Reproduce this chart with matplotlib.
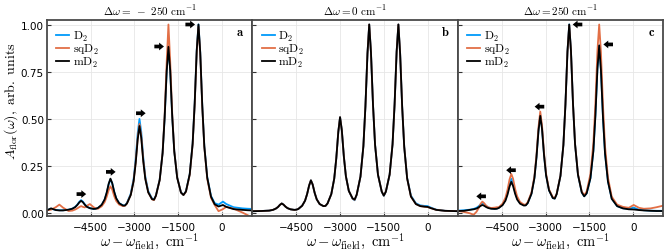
import matplotlib.pyplot as plt

plt.rcParams['mathtext.fontset'] = 'cm'
plt.rcParams['font.family'] = 'DejaVu Sans'

# values
panel_titles = [r'$\Delta\omega =\ -\ 250\ \mathrm{cm}^{-1}$',
                r'$\Delta\omega = 0\ \mathrm{cm}^{-1}$',
                r'$\Delta\omega = 250\ \mathrm{cm}^{-1}$']
panel_letters = ['a', 'b', 'c']
series_names = [r'$\mathrm{D}_2$', r'$\mathrm{sqD}_2$', r'$\mathrm{mD}_2$']
series_colors = ['#009AFA', '#E26F46', 'black']

# panel a: detuning -250 cm^-1
xa = [-6000, -5860, -5700, -5575, -5450,
      -5260, -5130, -5030, -4960, -4890, -4830, -4770, -4700, -4630, -4530, -4400, -4330,
      -4254, -4124, -4024, -3954, -3884, -3824, -3764, -3694, -3624, -3524, -3394, -3326,
      -3258, -3128, -3028, -2958, -2888, -2828, -2768, -2698, -2628, -2528, -2398, -2330,
      -2265, -2135, -2035, -1965, -1895, -1835, -1775, -1705, -1635, -1535, -1405, -1320,
      -1235, -1105, -1005, -935, -865, -805, -745, -675, -605, -505, -375,
      -250, -117, 34, 148, 400, 700, 890, 1040]
a_D2 = [0.012, 0.020, 0.014, 0.012, 0.012,
        0.015, 0.021, 0.030, 0.042, 0.057, 0.066, 0.058, 0.043, 0.031, 0.023, 0.019, 0.020,
        0.024, 0.040, 0.068, 0.103, 0.150, 0.177, 0.156, 0.110, 0.075, 0.050, 0.038, 0.038,
        0.051, 0.100, 0.180, 0.284, 0.423, 0.498, 0.430, 0.293, 0.191, 0.114, 0.074, 0.070,
        0.091, 0.175, 0.318, 0.506, 0.755, 0.886, 0.760, 0.513, 0.327, 0.186, 0.107, 0.094,
        0.112, 0.204, 0.367, 0.580, 0.862, 1.000, 0.853, 0.569, 0.354, 0.188, 0.088,
        0.050, 0.042, 0.058, 0.045, 0.028, 0.022, 0.020, 0.019]
a_sqD2 = [0.012, 0.015, 0.028, 0.042, 0.026,
          0.008, 0.010, 0.016, 0.022, 0.029, 0.034, 0.030, 0.027, 0.036, 0.045, 0.028, 0.022,
          0.020, 0.033, 0.055, 0.083, 0.119, 0.139, 0.123, 0.087, 0.061, 0.042, 0.034, 0.036,
          0.048, 0.094, 0.170, 0.268, 0.398, 0.471, 0.408, 0.279, 0.183, 0.108, 0.070, 0.066,
          0.089, 0.173, 0.318, 0.520, 0.800, 1.000, 0.805, 0.525, 0.327, 0.186, 0.106, 0.093,
          0.110, 0.200, 0.362, 0.573, 0.853, 0.990, 0.845, 0.562, 0.348, 0.180, 0.078,
          0.040, 0.007, 0.018, 0.030, 0.020, 0.000, -0.015, -0.026]
a_mD2 = [0.012, 0.022, 0.013, 0.011, 0.011,
         0.015, 0.020, 0.029, 0.040, 0.054, 0.062, 0.055, 0.041, 0.030, 0.023, 0.019, 0.020,
         0.024, 0.041, 0.069, 0.105, 0.153, 0.180, 0.157, 0.110, 0.075, 0.049, 0.037, 0.037,
         0.048, 0.093, 0.167, 0.263, 0.390, 0.460, 0.398, 0.272, 0.178, 0.107, 0.071, 0.068,
         0.089, 0.173, 0.316, 0.503, 0.750, 0.881, 0.756, 0.510, 0.325, 0.185, 0.106, 0.093,
         0.112, 0.204, 0.367, 0.580, 0.862, 1.000, 0.853, 0.569, 0.353, 0.186, 0.084,
         0.044, 0.032, 0.040, 0.030, 0.018, 0.014, 0.012, 0.011]

# panel b: detuning 0
xb = [-6000, -5700,
      -5430, -5300, -5200, -5130, -5060, -5000, -4940, -4870, -4800, -4700, -4570, -4500,
      -4430, -4300, -4200, -4130, -4060, -4000, -3940, -3870, -3800, -3700, -3570, -3500,
      -3430, -3300, -3200, -3130, -3060, -3000, -2940, -2870, -2800, -2700, -2570, -2500,
      -2430, -2300, -2200, -2130, -2060, -2000, -1940, -1870, -1800, -1700, -1570, -1500,
      -1430, -1300, -1200, -1130, -1060, -1000, -940, -870, -800, -700, -570,
      -400, -250, -100, 0, 100, 300, 600, 1040]
b_D2 = [0.007, 0.008,
        0.010, 0.014, 0.021, 0.029, 0.041, 0.048, 0.042, 0.031, 0.023, 0.017, 0.014, 0.015,
        0.019, 0.036, 0.063, 0.098, 0.144, 0.171, 0.149, 0.104, 0.070, 0.045, 0.034, 0.035,
        0.048, 0.098, 0.180, 0.287, 0.429, 0.507, 0.438, 0.298, 0.193, 0.115, 0.073, 0.065,
        0.093, 0.191, 0.353, 0.565, 0.845, 1.000, 0.851, 0.572, 0.361, 0.201, 0.110, 0.089,
        0.110, 0.202, 0.363, 0.575, 0.855, 1.000, 0.845, 0.562, 0.350, 0.184, 0.090,
        0.049, 0.038, 0.035, 0.034, 0.027, 0.015, 0.009, 0.007]
b_sqD2 = [0.007, 0.008,
          0.010, 0.014, 0.021, 0.029, 0.041, 0.048, 0.042, 0.031, 0.023, 0.017, 0.014, 0.015,
          0.019, 0.036, 0.063, 0.098, 0.144, 0.171, 0.149, 0.104, 0.070, 0.045, 0.034, 0.035,
          0.048, 0.098, 0.180, 0.287, 0.429, 0.507, 0.438, 0.298, 0.193, 0.115, 0.074, 0.067,
          0.094, 0.191, 0.353, 0.565, 0.845, 1.000, 0.851, 0.572, 0.361, 0.201, 0.111, 0.090,
          0.111, 0.202, 0.363, 0.575, 0.855, 1.000, 0.845, 0.562, 0.350, 0.182, 0.085,
          0.045, 0.034, 0.031, 0.029, 0.024, 0.014, 0.009, 0.007]
b_mD2 = [0.007, 0.008,
         0.010, 0.014, 0.021, 0.029, 0.041, 0.048, 0.042, 0.031, 0.023, 0.017, 0.014, 0.015,
         0.019, 0.036, 0.063, 0.098, 0.144, 0.171, 0.149, 0.104, 0.070, 0.045, 0.034, 0.035,
         0.048, 0.098, 0.180, 0.287, 0.429, 0.507, 0.438, 0.298, 0.193, 0.115, 0.075, 0.069,
         0.095, 0.191, 0.353, 0.565, 0.845, 1.000, 0.851, 0.572, 0.361, 0.201, 0.111, 0.090,
         0.111, 0.202, 0.363, 0.575, 0.855, 1.000, 0.845, 0.562, 0.350, 0.182, 0.085,
         0.045, 0.034, 0.031, 0.030, 0.024, 0.014, 0.009, 0.007]

# panel c: detuning +250 cm^-1
xc = [-6000, -5800,
      -5601, -5471, -5371, -5301, -5231, -5171, -5111, -5041, -4971, -4871, -4741, -4675,
      -4608, -4478, -4378, -4308, -4238, -4178, -4118, -4048, -3978, -3878, -3748, -3682,
      -3615, -3485, -3385, -3315, -3245, -3185, -3125, -3055, -2985, -2885, -2755, -2688,
      -2622, -2492, -2392, -2322, -2252, -2192, -2132, -2062, -1992, -1892, -1762, -1678,
      -1594, -1464, -1364, -1294, -1224, -1164, -1104, -1034, -964, -864, -734,
      -550, -350, -150, 20, 200, 365, 600, 800, 935, 1020]
c_D2 = [0.010, 0.012,
        0.015, 0.019, 0.025, 0.033, 0.043, 0.050, 0.045, 0.035, 0.027, 0.022, 0.020, 0.021,
        0.025, 0.042, 0.069, 0.105, 0.152, 0.179, 0.155, 0.109, 0.075, 0.050, 0.039, 0.039,
        0.050, 0.101, 0.185, 0.295, 0.440, 0.519, 0.449, 0.306, 0.199, 0.119, 0.077, 0.074,
        0.098, 0.195, 0.359, 0.573, 0.856, 1.000, 0.860, 0.577, 0.364, 0.201, 0.107, 0.086,
        0.102, 0.183, 0.328, 0.518, 0.768, 0.890, 0.758, 0.505, 0.314, 0.166, 0.074,
        0.034, 0.022, 0.020, 0.026, 0.015, 0.012, 0.010, 0.009, 0.009, 0.009]
c_sqD2 = [0.008, 0.003,
          -0.004, -0.012, 0.004, 0.022, 0.046, 0.058, 0.050, 0.036, 0.028, 0.024, 0.026, 0.028,
          0.028, 0.047, 0.079, 0.121, 0.176, 0.205, 0.180, 0.126, 0.086, 0.056, 0.042, 0.042,
          0.055, 0.107, 0.193, 0.306, 0.455, 0.537, 0.464, 0.316, 0.206, 0.123, 0.081, 0.077,
          0.100, 0.196, 0.359, 0.573, 0.854, 0.995, 0.858, 0.578, 0.366, 0.204, 0.112, 0.092,
          0.112, 0.205, 0.368, 0.580, 0.863, 1.000, 0.853, 0.569, 0.353, 0.186, 0.084,
          0.042, 0.030, 0.025, 0.040, 0.025, 0.020, 0.022, 0.028, 0.033, 0.036]
c_mD2 = [0.008, 0.009,
         0.014, 0.017, 0.021, 0.027, 0.035, 0.040, 0.036, 0.029, 0.024, 0.020, 0.019, 0.020,
         0.024, 0.039, 0.063, 0.095, 0.138, 0.163, 0.141, 0.100, 0.069, 0.047, 0.037, 0.038,
         0.050, 0.100, 0.183, 0.292, 0.435, 0.514, 0.445, 0.303, 0.197, 0.118, 0.077, 0.074,
         0.098, 0.195, 0.359, 0.573, 0.856, 1.000, 0.860, 0.577, 0.364, 0.201, 0.107, 0.086,
         0.102, 0.183, 0.327, 0.516, 0.766, 0.888, 0.756, 0.504, 0.313, 0.165, 0.073,
         0.034, 0.022, 0.017, 0.016, 0.013, 0.011, 0.009, 0.008, 0.008, 0.008]

# arrow markers (centre x, y); a points right, c points left
arrows_a_x = [-4820, -3811, -2781, -2153, -1088]
arrows_a_y = [0.098, 0.216, 0.528, 0.883, 1.0]
arrows_c_x = [-5213, -4189, -3213, -1908, -856]
arrows_c_y = [0.086, 0.225, 0.563, 1.0, 0.894]

xticks = [-4500, -3000, -1500, 0]
xtick_labels = ['\u22124500', '\u22123000', '\u22121500', '0']
yticks = [0, 0.25, 0.5, 0.75, 1.0]
ytick_labels = ['0.00', '0.25', '0.50', '0.75', '1.00']

panels = [(xa, [a_D2, a_sqD2, a_mD2], arrows_a_x, arrows_a_y, 1),
          (xb, [b_D2, b_sqD2, b_mD2], [], [], 1),
          (xc, [c_D2, c_sqD2, c_mD2], arrows_c_x, arrows_c_y, -1)]

fig, axes = plt.subplots(1, 3, figsize=(6.65, 2.51), dpi=100)
fig.subplots_adjust(left=0.0702, right=0.9977, top=0.9163, bottom=0.1335, wspace=0)

arrow_len = 330
for i, ax in enumerate(axes):
    x, ys, arx, ary, direction = panels[i]
    for y, name, col in zip(ys, series_names, series_colors):
        assert len(y) == len(x)
        ax.plot(x, y, color=col, lw=1.3, label=name)
    for cx, cy in zip(arx, ary):
        ax.annotate('', xy=(cx + direction * arrow_len / 2, cy),
                    xytext=(cx - direction * arrow_len / 2, cy),
                    arrowprops=dict(arrowstyle='simple,head_length=0.5,head_width=0.8,tail_width=0.38',
                                    fc='black', ec='black', lw=0, shrinkA=0, shrinkB=0,
                                    mutation_scale=7))
    ax.set_xlim(-6010, 1040)
    ax.set_ylim(-0.0212, 1.0239)
    ax.set_xticks(xticks)
    ax.set_xticklabels(xtick_labels)
    ax.set_yticks(yticks)
    if i == 0:
        ax.set_yticklabels(ytick_labels)
        ax.set_ylabel(r'$A_{\rm flor}(\omega),\ \mathrm{arb.\ units}$', fontsize=10)
        ax.yaxis.set_label_coords(-0.128, 0.59)
    else:
        ax.set_yticklabels([])
    ax.tick_params(direction='in', length=3, width=0.8, color='#333333',
                   labelsize=7.5, pad=2, top=False, right=False)
    ax.tick_params(axis='x', pad=4)
    ax.grid(True, color='#e6e6e6', lw=0.6)
    ax.set_axisbelow(True)
    for sp in ax.spines.values():
        sp.set_color('#4a4a4a')
        sp.set_linewidth(1.3)
    ax.set_xlabel(r'$\omega - \omega_{\rm field},\ \mathrm{cm}^{-1}$', fontsize=10.5, labelpad=-0.5)
    ax.set_title(panel_titles[i], fontsize=8, pad=4)
    ax.text(0.94, 0.94, r'$\mathbf{' + panel_letters[i] + '}$', transform=ax.transAxes,
            fontsize=9, ha='center', va='center')
    ax.legend(loc='upper left', frameon=False, fontsize=8.5, handlelength=1.1,
              handletextpad=0.3, labelspacing=-0.1, borderaxespad=0.4,
              bbox_to_anchor=(0.0, 1.0))

fig.savefig('out.png', dpi=100)
